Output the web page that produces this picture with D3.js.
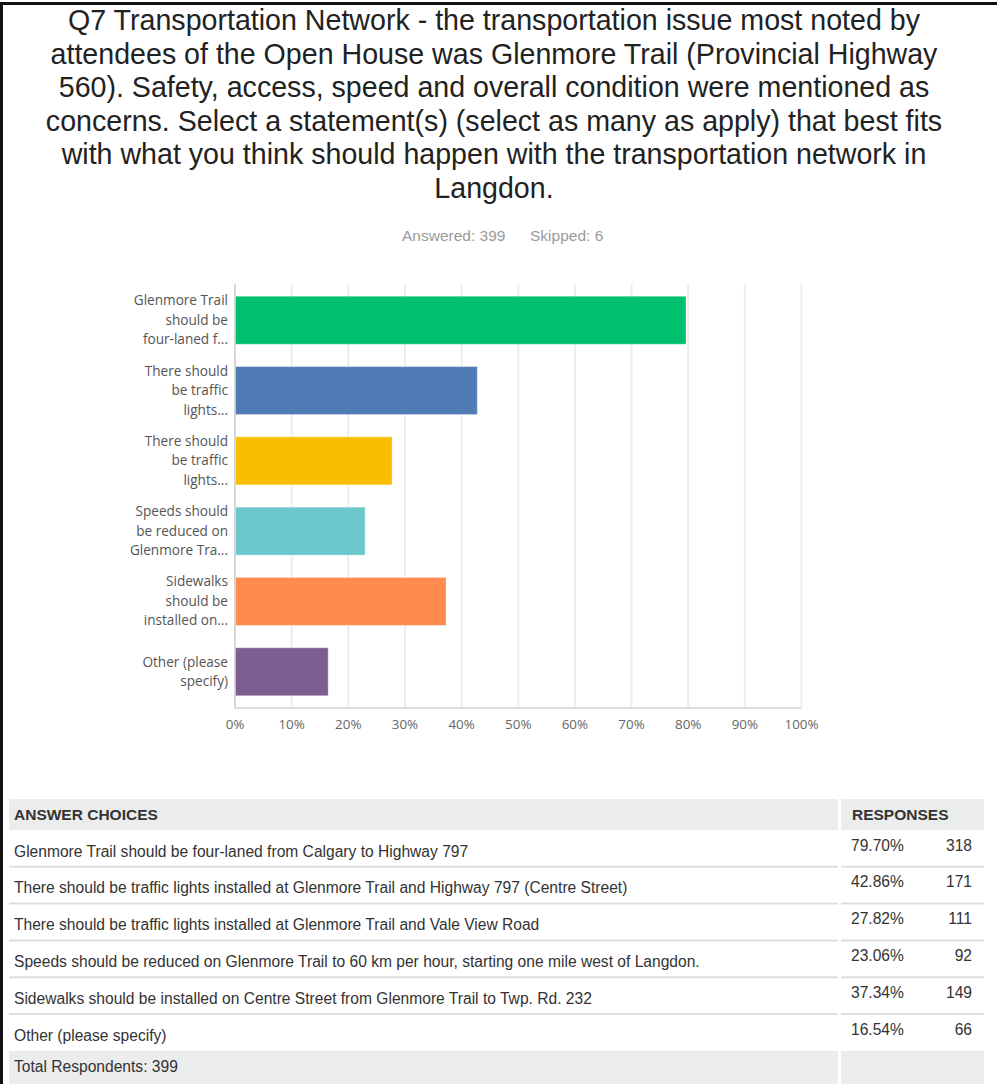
<!DOCTYPE html>
<html>
<head>
<meta charset="utf-8">
<script src="https://cdn.jsdelivr.net/npm/d3@7"></script>
<style>
  html, body { margin: 0; padding: 0; background: #fff; }
  svg { display: block; }
</style>
</head>
<body>
<div id="chart"></div>
<script>
/* ---------- Dados ---------- */
const titleLines = [
  'Q7 Transportation Network - the transportation issue most noted by',
  'attendees of the Open House was Glenmore Trail (Provincial Highway',
  '560). Safety, access, speed and overall condition were mentioned as',
  'concerns. Select a statement(s) (select as many as apply) that best fits',
  'with what you think should happen with the transportation network in',
  'Langdon.'
];
const answered = 399;
const skipped  = 6;

const barLabels = [
  ['Glenmore Trail', 'should be', 'four-laned f...'],
  ['There should', 'be traffic', 'lights...'],
  ['There should', 'be traffic', 'lights...'],
  ['Speeds should', 'be reduced on', 'Glenmore Tra...'],
  ['Sidewalks', 'should be', 'installed on...'],
  ['Other (please', 'specify)']
];
const choices = [
  'Glenmore Trail should be four-laned from Calgary to Highway 797',
  'There should be traffic lights installed at Glenmore Trail and Highway 797 (Centre Street)',
  'There should be traffic lights installed at Glenmore Trail and Vale View Road',
  'Speeds should be reduced on Glenmore Trail to 60 km per hour, starting one mile west of Langdon.',
  'Sidewalks should be installed on Centre Street from Glenmore Trail to Twp. Rd. 232',
  'Other (please specify)'
];
const percents = [79.70, 42.86, 27.82, 23.06, 37.34, 16.54];
const counts   = [318, 171, 111, 92, 149, 66];
const colors   = ['#00bf6f', '#507cb6', '#f9be00', '#6bc8cd', '#ff8b4f', '#7d5e90'];
const xTicks   = [0, 10, 20, 30, 40, 50, 60, 70, 80, 90, 100];
const totalRespondents = 399;

/* ---------- SVG ---------- */
const W = 997, H = 1084;
const svg = d3.select('#chart').append('svg')
  .attr('width', W).attr('height', H);

// moldura preta (topo e esquerda)
svg.append('rect').attr('x', 0).attr('y', 2).attr('width', W).attr('height', 3).attr('fill', '#111');
svg.append('rect').attr('x', 0).attr('y', 2).attr('width', 3).attr('height', H).attr('fill', '#111');

/* ---------- Título ---------- */
const sans = '"Liberation Sans", Arial, sans-serif';
svg.append('g').selectAll('text')
  .data(titleLines).enter()
  .append('text')
  .attr('x', 494)
  .attr('y', (d, i) => 30 + i * 33.6)
  .attr('text-anchor', 'middle')
  .style('font-family', sans)
  .style('font-size', '28.6px')
  .attr('fill', '#222')
  .text(d => d);

const meta = svg.append('text')
  .attr('y', 240.5)
  .style('font-family', sans)
  .style('font-size', '15.5px')
  .attr('fill', '#9a9a9a');
meta.append('tspan').attr('x', 402).text(`Answered: ${answered}`);
meta.append('tspan').attr('x', 530).text(`Skipped: ${skipped}`);

/* ---------- Escalas ---------- */
const plot = { left: 234.5, right: 801, top: 284, bottom: 708 };

const x = d3.scaleLinear().domain([0, 100]).range([plot.left, plot.right]);
const y = d3.scaleBand()
  .domain(d3.range(percents.length))
  .range([plot.top, plot.bottom])
  .paddingInner(0.317)
  .paddingOuter(0.174);

/* ---------- Grade ---------- */
const grid = svg.append('g')
  .attr('transform', `translate(0,${plot.bottom})`)
  .call(d3.axisBottom(x).tickValues(xTicks).tickSize(-(plot.bottom - plot.top)).tickFormat(''));
grid.select('.domain').remove();
grid.selectAll('.tick line')
  .attr('stroke', (d) => d === 0 ? '#d6d6d6' : '#ececec')
  .attr('stroke-width', 2);

svg.append('line')
  .attr('x1', plot.left).attr('x2', plot.right)
  .attr('y1', plot.bottom).attr('y2', plot.bottom)
  .attr('stroke', '#dcdcdc').attr('stroke-width', 2);

/* ---------- Barras ---------- */
svg.append('g').selectAll('rect')
  .data(percents).enter()
  .append('rect')
  .attr('x', x(0) + 1)
  .attr('y', (d, i) => y(i))
  .attr('width', d => x(d) - x(0) - 1)
  .attr('height', y.bandwidth())
  .attr('fill', (d, i) => colors[i])
  .attr('stroke', '#fff').attr('stroke-opacity', 0.35).attr('stroke-width', 1);

/* ---------- Rótulos do eixo Y ---------- */
const lineH = 19.5;
const yLab = svg.append('g').selectAll('text')
  .data(barLabels).enter()
  .append('text')
  .attr('text-anchor', 'end')
  .style('font-family', '"Open Sans", sans-serif')
  .style('font-size', '13.6px')
  .attr('fill', '#555');
yLab.each(function (lines, i) {
  const cy = y(i) + y.bandwidth() / 2;
  const y0 = cy - (lines.length - 1) * lineH / 2 + 4.5;
  d3.select(this).selectAll('tspan')
    .data(lines).enter()
    .append('tspan')
    .attr('x', 228)
    .attr('y', (d, k) => y0 + k * lineH)
    .text(d => d);
});

/* ---------- Rótulos do eixo X ---------- */
const xAx = svg.append('g')
  .attr('transform', `translate(0,${plot.bottom})`)
  .call(d3.axisBottom(x).tickValues(xTicks).tickSize(0).tickPadding(11).tickFormat(d => d + '%'));
xAx.select('.domain').remove();
xAx.selectAll('text')
  .style('font-family', '"Open Sans", sans-serif')
  .style('font-size', '13.4px')
  .attr('fill', '#666');

/* ---------- Tabela ---------- */
const tbl = { left: 9, right: 984, split: 839, headTop: 799, headH: 31, rowH: 36.8 };
const tg = svg.append('g');

// cabeçalho
tg.append('rect').attr('x', tbl.left).attr('y', tbl.headTop)
  .attr('width', tbl.split - tbl.left - 1).attr('height', tbl.headH).attr('fill', '#ebecec');
tg.append('rect').attr('x', tbl.split + 2).attr('y', tbl.headTop)
  .attr('width', tbl.right - tbl.split - 2).attr('height', tbl.headH).attr('fill', '#ebecec');
tg.append('text').attr('x', 14).attr('y', tbl.headTop + 20.5)
  .style('font-family', sans).style('font-size', '15.5px').style('font-weight', 'bold')
  .attr('fill', '#333').text('ANSWER CHOICES');
tg.append('text').attr('x', 852).attr('y', tbl.headTop + 20.5)
  .style('font-family', sans).style('font-size', '15.5px').style('font-weight', 'bold')
  .attr('fill', '#333').text('RESPONSES');

const rowTop = i => tbl.headTop + tbl.headH + i * tbl.rowH;

const rows = tg.selectAll('g.row')
  .data(choices).enter()
  .append('g').attr('class', 'row');

rows.append('text')
  .attr('x', 14).attr('y', (d, i) => rowTop(i) + 26.5)
  .style('font-family', sans).style('font-size', '15.6px').attr('fill', '#333')
  .text(d => d);
rows.append('text')
  .attr('x', 851).attr('y', (d, i) => rowTop(i) + 20.5)
  .style('font-family', sans).style('font-size', '15.6px').attr('fill', '#333')
  .text((d, i) => percents[i].toFixed(2) + '%');
rows.append('text')
  .attr('x', 972).attr('y', (d, i) => rowTop(i) + 20.5)
  .attr('text-anchor', 'end')
  .style('font-family', sans).style('font-size', '15.6px').attr('fill', '#333')
  .text((d, i) => counts[i]);

// separadores
d3.range(1, choices.length).forEach(i => {
  const yy = rowTop(i);
  tg.append('line').attr('x1', tbl.left).attr('x2', tbl.split - 1).attr('y1', yy).attr('y2', yy)
    .attr('stroke', '#dedede').attr('stroke-width', 2);
  tg.append('line').attr('x1', tbl.split + 2).attr('x2', tbl.right).attr('y1', yy).attr('y2', yy)
    .attr('stroke', '#dedede').attr('stroke-width', 2);
});

// total
const totTop = rowTop(choices.length);
tg.append('rect').attr('x', tbl.left).attr('y', totTop)
  .attr('width', tbl.split - tbl.left - 1).attr('height', H - totTop).attr('fill', '#ebecec');
tg.append('rect').attr('x', tbl.split + 2).attr('y', totTop)
  .attr('width', tbl.right - tbl.split - 2).attr('height', H - totTop).attr('fill', '#ebecec');
tg.append('text').attr('x', 14).attr('y', totTop + 21)
  .style('font-family', sans).style('font-size', '15.6px').attr('fill', '#333')
  .text(`Total Respondents: ${totalRespondents}`);
</script>
</body>
</html>
